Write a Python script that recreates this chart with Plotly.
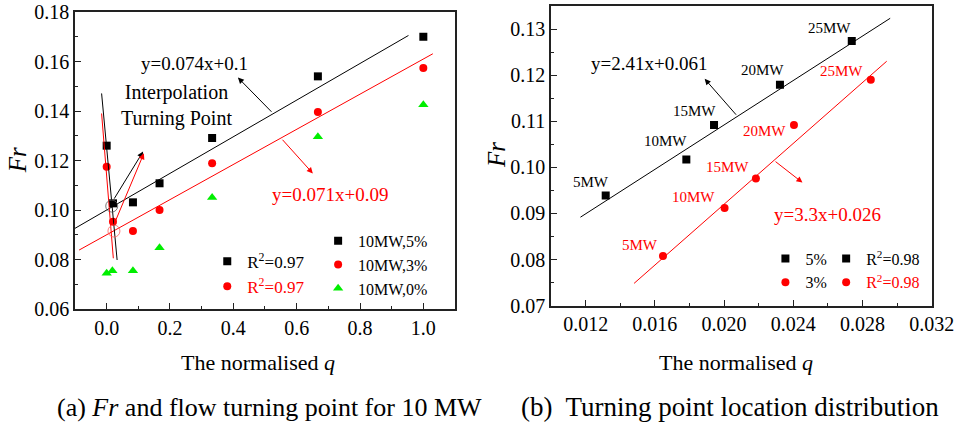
import plotly.graph_objects as go

FONT = "Liberation Serif"
BLACK, RED, GREEN = "#000000", "#ff0000", "#00ee00"

# ---------------- Panel (a) data ----------------
q_a = [0.0, 0.02, 0.083, 0.167, 0.333, 0.667, 1.0]
fr_a_5 = [0.126, 0.1027, 0.1031, 0.1108, 0.1291, 0.154, 0.170]
fr_a_3 = [0.1175, 0.0953, 0.0915, 0.100, 0.1189, 0.1396, 0.1574]
q_a_0 = [0.0, 0.018, 0.083, 0.167, 0.333, 0.667, 1.0]
fr_a_0 = [0.0744, 0.0755, 0.0755, 0.0848, 0.1051, 0.1296, 0.1425]
series_a_names = ["10MW,5%", "10MW,3%", "10MW,0%"]
r2_a = ["0.97", "0.97"]

fit_a_5 = {"slope": 0.074, "intercept": 0.1, "xspan": [-0.1, 0.953]}
fit_a_3 = {"slope": 0.071, "intercept": 0.09, "xspan": [-0.087, 1.03]}
interp_a_5_x = [-0.016, 0.033]
interp_a_5_y = [0.1471, 0.0798]
interp_a_3_x = [-0.016, 0.021]
interp_a_3_y = [0.139, 0.0805]
turn_a_5 = [0.016, 0.1016]
turn_a_3 = [0.023, 0.0915]

# ---------------- Panel (b) data ----------------
q_b_5 = [0.01316, 0.01782, 0.01942, 0.02323, 0.02738]
fr_b_5 = [0.0939, 0.1017, 0.1092, 0.1179, 0.1274]
q_b_3 = [0.01647, 0.02003, 0.02184, 0.02404, 0.02848]
fr_b_3 = [0.0808, 0.0912, 0.0976, 0.1092, 0.119]
mw_labels = ["5MW", "10MW", "15MW", "20MW", "25MW"]
series_b_names = ["5%", "3%"]
r2_b = ["0.98", "0.98"]
fit_b_5 = {"slope": 2.41, "intercept": 0.061, "xspan": [0.0117, 0.0296]}
fit_b_3 = {"slope": 3.3, "intercept": 0.026, "xspan": [0.0148, 0.0294]}


def fit_line(f):
    xs = f["xspan"]
    return xs, [f["slope"] * x + f["intercept"] for x in xs]


fig = go.Figure()

# ----- panel (a) traces -----
for xs, ys, nm, sym, col, sz in [
    (q_a, fr_a_5, series_a_names[0], "square", BLACK, 8),
    (q_a, fr_a_3, series_a_names[1], "circle", RED, 8),
    (q_a_0, fr_a_0, series_a_names[2], "triangle-up", GREEN, 9),
]:
    fig.add_trace(go.Scatter(x=xs, y=ys, mode="markers", name=nm,
                             marker=dict(symbol=sym, color=col, size=sz),
                             xaxis="x", yaxis="y", legend="legend2"))

for f, col in [(fit_a_5, BLACK), (fit_a_3, RED)]:
    lx, ly = fit_line(f)
    fig.add_trace(go.Scatter(x=lx, y=ly, mode="lines", line=dict(color=col, width=1),
                             showlegend=False, xaxis="x", yaxis="y"))
for lx, ly, col in [(interp_a_5_x, interp_a_5_y, BLACK), (interp_a_3_x, interp_a_3_y, RED)]:
    fig.add_trace(go.Scatter(x=lx, y=ly, mode="lines", line=dict(color=col, width=1),
                             showlegend=False, xaxis="x", yaxis="y"))
for pt, col in [(turn_a_5, "#555555"), (turn_a_3, "#ff6060")]:
    fig.add_trace(go.Scatter(x=[pt[0]], y=[pt[1]], mode="markers",
                             marker=dict(symbol="circle-open", size=12, color=col, line=dict(width=0.8)),
                             showlegend=False, xaxis="x", yaxis="y"))

# R^2 legend entries (panel a)
for val, sym, col in [(r2_a[0], "square", BLACK), (r2_a[1], "circle", RED)]:
    fig.add_trace(go.Scatter(x=[None], y=[None], mode="markers",
                             name=f"<span style='color:{col}'>R<sup>2</sup>={val}</span>",
                             marker=dict(symbol=sym, color=col, size=8),
                             xaxis="x", yaxis="y", legend="legend"))

# ----- panel (b) traces -----
for xs, ys, nm, sym, col in [
    (q_b_5, fr_b_5, series_b_names[0], "square", BLACK),
    (q_b_3, fr_b_3, series_b_names[1], "circle", RED),
]:
    fig.add_trace(go.Scatter(x=xs, y=ys, mode="markers", name=nm,
                             marker=dict(symbol=sym, color=col, size=8),
                             xaxis="x2", yaxis="y2", legend="legend3"))
for f, col in [(fit_b_5, BLACK), (fit_b_3, RED)]:
    lx, ly = fit_line(f)
    fig.add_trace(go.Scatter(x=lx, y=ly, mode="lines", line=dict(color=col, width=1),
                             showlegend=False, xaxis="x2", yaxis="y2"))
for val, sym, col in [(r2_b[0], "square", BLACK), (r2_b[1], "circle", RED)]:
    fig.add_trace(go.Scatter(x=[None], y=[None], mode="markers",
                             name=f"<span style='color:{col}'>R<sup>2</sup>={val}</span>",
                             marker=dict(symbol=sym, color=col, size=8),
                             xaxis="x2", yaxis="y2", legend="legend4"))

annotations = []


def arrow(tail, head, col, xr, yr):
    annotations.append(dict(x=head[0], y=head[1], ax=tail[0], ay=tail[1],
                            xref=xr, yref=yr, axref=xr, ayref=yr, text="",
                            showarrow=True, arrowhead=2, arrowsize=1.2, arrowwidth=1,
                            arrowcolor=col))


def text(x, y, t, col, size, xr, yr, **kw):
    annotations.append(dict(x=x, y=y, xref=xr, yref=yr, text=t, showarrow=False,
                            xanchor="center", yanchor="middle",
                            font=dict(family=FONT, size=size, color=col), **kw))


# panel (a) annotations
arrow((0.021, 0.104), (0.115, 0.1236), BLACK, "x", "y")
arrow((0.02, 0.0932), (0.1175, 0.1229), RED, "x", "y")
arrow((0.525, 0.1391), (0.4145, 0.1535), BLACK, "x", "y")
arrow((0.551, 0.129), (0.651, 0.1148), RED, "x", "y")
text(0.278, 0.1593, "y=0.074x+0.1", BLACK, 19, "x", "y")
text(0.2205, 0.1422, "Interpolation<br>Turning Point", BLACK, 20, "x", "y")
text(0.7055, 0.1063, "y=0.071x+0.09", RED, 19, "x", "y")

# panel (b) annotations
arrow((0.02077, 0.1111), (0.01888, 0.1192), BLACK, "x2", "y2")
arrow((0.02289, 0.1015), (0.02453, 0.0967), RED, "x2", "y2")
text(0.01566, 0.12244, "y=2.41x+0.061", BLACK, 19, "x2", "y2")
text(0.02597, 0.08976, "y=3.3x+0.026", RED, 19, "x2", "y2")
black_off = [(-15, 13), (-21, 19), (-20, 14), (-17, 15), (-22, 13)]
red_off = [(-23, 11), (-31, 11), (-28, 11), (-29, -6), (-29, 9)]
for i, lab in enumerate(mw_labels):
    text(q_b_5[i], fr_b_5[i], lab, BLACK, 15, "x2", "y2",
         xshift=black_off[i][0], yshift=black_off[i][1])
    text(q_b_3[i], fr_b_3[i], lab, RED, 15, "x2", "y2",
         xshift=red_off[i][0], yshift=red_off[i][1])

# axis titles and captions
text(0.268, 0.16, "The normalised <i>q</i>", BLACK, 22, "paper", "paper")
text(0.7635, 0.16, "The normalised <i>q</i>", BLACK, 22, "paper", "paper")
text(0.019, 0.63, "<i>Fr</i>", BLACK, 25, "paper", "paper", textangle=-90)
text(0.515, 0.642, "<i>Fr</i>", BLACK, 25, "paper", "paper", textangle=-90)
text(0.2793, 0.057, "(a) <i>Fr</i> and flow turning point for 10 MW", BLACK, 26, "paper", "paper")
text(0.7573, 0.057, "(b)  Turning point location distribution", BLACK, 27, "paper", "paper")

axis_common = dict(showline=True, linecolor="#222222", linewidth=1.5, mirror=True,
                   ticks="inside", ticklen=6, tickwidth=1.2, tickcolor="#222222",
                   showgrid=False, zeroline=False,
                   tickfont=dict(family=FONT, size=20, color=BLACK))

legend_common = dict(bgcolor="rgba(0,0,0,0)", borderwidth=0, xanchor="left", yanchor="top",
                     tracegroupgap=0, itemclick=False)


def lfont(size):
    return dict(family=FONT, size=size, color=BLACK)


fig.update_layout(
    width=964, height=432, margin=dict(l=0, r=0, t=0, b=0),
    paper_bgcolor="white", plot_bgcolor="white", template="none",
    font=dict(family=FONT, color=BLACK),
    xaxis=dict(domain=[0.0778, 0.472], range=[-0.1, 1.1], anchor="y",
               tick0=0, dtick=0.2, tickformat=".1f",
               minor=dict(dtick=0.1, ticks="inside", ticklen=3, tickcolor="#222222"),
               **axis_common),
    yaxis=dict(domain=[0.2847, 0.9722], range=[0.06, 0.1800001], anchor="x",
               tick0=0.06, dtick=0.02, tickformat=".2f",
               minor=dict(dtick=0.01, ticks="inside", ticklen=3, tickcolor="#222222"),
               **axis_common),
    xaxis2=dict(domain=[0.5716, 0.9665], range=[0.010, 0.0320001], anchor="y2",
                tick0=0.012, dtick=0.004, tickformat=".3f",
                minor=dict(dtick=0.002, ticks="inside", ticklen=3, tickcolor="#222222"),
                **axis_common),
    yaxis2=dict(domain=[0.2924, 0.9861], range=[0.07, 0.135], anchor="x2",
                tick0=0.07, dtick=0.01, tickformat=".2f",
                minor=dict(dtick=0.005, ticks="inside", ticklen=3, tickcolor="#222222"),
                **axis_common),
    legend=dict(x=0.215, y=0.436, font=lfont(17), **legend_common),
    legend2=dict(x=0.33, y=0.482, font=lfont(16), **legend_common),
    legend3=dict(x=0.794, y=0.441, font=lfont(16), **legend_common),
    legend4=dict(x=0.857, y=0.441, font=lfont(16), **legend_common),
    annotations=annotations,
    showlegend=True,
)

fig.write_html("out.html")
